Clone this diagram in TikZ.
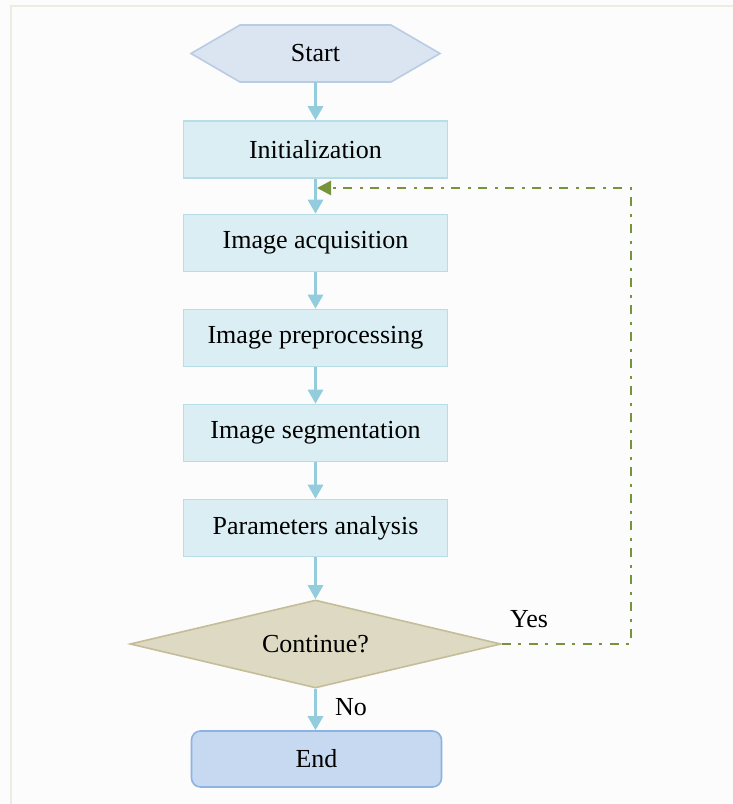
\documentclass[tikz,border=0pt]{standalone}
\usepackage{fontspec}
\setmainfont{Liberation Serif}
\usetikzlibrary{arrows.meta,shapes.geometric}
\definecolor{boxfill}{HTML}{DAEEF3}
\definecolor{boxline}{HTML}{B7DDE8}
\definecolor{hexfill}{HTML}{DBE5F1}
\definecolor{hexline}{HTML}{B8CCE4}
\definecolor{decfill}{HTML}{DDD9C3}
\definecolor{decline}{HTML}{C4BD97}
\definecolor{endfill}{HTML}{C6D9F1}
\definecolor{endline}{HTML}{8DB3E2}
\definecolor{arrowc}{HTML}{93CDDD}
\definecolor{loopc}{HTML}{77933C}
\definecolor{framec}{HTML}{EEECE1}
\begin{document}
\begin{tikzpicture}[x=1pt,y=-1pt,
  every node/.style={font=\fontsize{26}{30}\selectfont, text=black},
  procbox/.style={draw=boxline, fill=boxfill, line width=1.6pt, minimum width=264pt, minimum height=57pt, inner sep=0pt},
  decbox/.style={diamond, aspect=4.2, draw=decline, fill=decfill, line width=1.6pt, minimum width=371pt, minimum height=88pt, inner sep=0pt},
  endbox/.style={draw=endline, fill=endfill, line width=1.6pt, rounded corners=9pt, minimum width=250pt, minimum height=56pt, inner sep=0pt},
  flow/.style={draw=arrowc, line width=3pt, -{Triangle[width=15pt,length=14pt]}},
  loopline/.style={draw=loopc, line width=2.8pt, dash pattern=on 9pt off 7pt on 3pt off 8pt, -{Triangle[width=14pt,length=14pt]}},
  lbl/.style={font=\fontsize{26}{30}\selectfont}
]
\useasboundingbox (0,0) rectangle (733,804);
\fill[white!98!gray] (0,0) rectangle (733,804);
\draw[framec, line width=2pt] (11,804) -- (11,5.5) -- (733,5.5);

% Start hexagon
\coordinate (h1) at (191,53.5);
\coordinate (h2) at (240,25);
\coordinate (h3) at (391,25);
\coordinate (h4) at (440,53.5);
\coordinate (h5) at (391,82);
\coordinate (h6) at (240,82);
\filldraw[draw=hexline, fill=hexfill, line width=1.6pt, line join=miter] (h1) -- (h2) -- (h3) -- (h4) -- (h5) -- (h6) -- cycle;
\node[minimum width=249pt, minimum height=57pt, inner sep=0pt] (start) at (315.5,53.5) {Start};

\node[procbox] (init) at (315.5,149.5) {Initialization};
\node[procbox] (acq) at (315.5,243) {Image acquisition};
\node[procbox] (pre) at (315.5,338) {Image preprocessing};
\node[procbox] (seg) at (315.5,433) {Image segmentation};
\node[procbox] (par) at (315.5,528) {Parameters analysis};
\node[decbox] (dec) at (315.5,644) {Continue?};
\node[endbox] (end) at (316.5,759) {End};

\draw[flow] (start.south) -- (init.north);
\draw[flow] (init.south) -- (acq.north);
\draw[flow] (acq.south) -- (pre.north);
\draw[flow] (pre.south) -- (seg.north);
\draw[flow] (seg.south) -- (par.north);
\draw[flow] (par.south) -- (dec.north);
\draw[flow] (dec.south) -- (dec.south |- end.north);

\coordinate (loopend) at (317,188);
\draw[loopline] (dec.east) -- (631,644) -- (631,188) -- (loopend);

\node[lbl] (yes) at (529,619) {Yes};
\node[lbl] (no) at (351,707) {No};
\end{tikzpicture}
\end{document}
